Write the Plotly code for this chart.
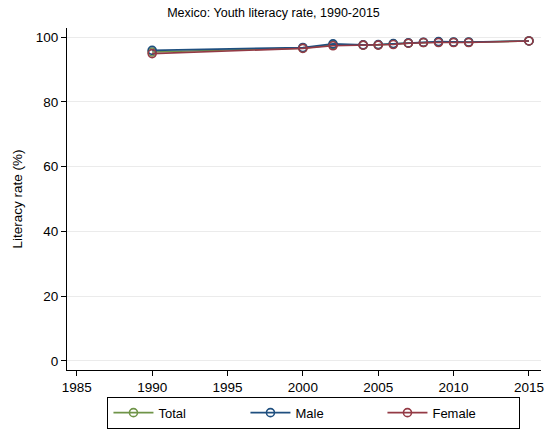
import plotly.graph_objects as go

years = [1990, 2000, 2002, 2004, 2005, 2006, 2007, 2008, 2009, 2010, 2011, 2015]
total = [95.4, 96.6, 97.6, 97.5, 97.6, 97.9, 98.1, 98.3, 98.5, 98.4, 98.4, 98.8]
male = [95.9, 96.8, 97.9, 97.6, 97.7, 98.0, 98.2, 98.4, 98.6, 98.5, 98.5, 98.8]
female = [94.9, 96.5, 97.3, 97.5, 97.5, 97.7, 98.1, 98.3, 98.3, 98.3, 98.3, 98.8]

series_names = ["Total", "Male", "Female"]
series_values = [total, male, female]
colors = ["#6f9448", "#1f4f7f", "#943a45"]

x_ticks = [1985, 1990, 1995, 2000, 2005, 2010, 2015]
y_ticks = [0, 20, 40, 60, 80, 100]

fig = go.Figure()
for name, vals, c in zip(series_names, series_values, colors):
    fig.add_trace(go.Scatter(
        x=years, y=vals, name=name, mode="lines+markers",
        line=dict(color=c, width=1.6),
        marker=dict(symbol="circle-open", size=8, color=c, line=dict(width=1.6, color=c)),
    ))

fig.update_layout(
    width=547, height=435,
    margin=dict(l=67, r=6, t=28, b=65),
    paper_bgcolor="white", plot_bgcolor="white",
    font=dict(family="Liberation Sans, Arial, sans-serif", size=13, color="black"),
    title=dict(text="Mexico: Youth literacy rate, 1990-2015", x=0.5, xanchor="center",
               y=0.972, yanchor="middle", font=dict(size=12.5, color="black")),
    showlegend=True,
    legend=dict(orientation="h", x=0.521, xanchor="center",
                yref="container", y=0.088, yanchor="top",
                bordercolor="black", borderwidth=1, bgcolor="white",
                font=dict(size=13), itemwidth=40, tracegroupgap=0, entrywidth=82),
)
fig.update_xaxes(range=[1984.35, 2015.8], tickvals=x_ticks, ticks="outside", ticklen=5,
                 tickcolor="black", showline=True, linecolor="black", linewidth=1,
                 showgrid=False, zeroline=False, tickfont=dict(size=13.5), automargin=False)
fig.update_yaxes(range=[-2.8, 102.8], tickvals=y_ticks, ticks="outside", ticklen=5,
                 tickcolor="black", showline=True, linecolor="black", linewidth=1,
                 showgrid=True, gridcolor="#ebebeb", gridwidth=1, zeroline=False,
                 title=dict(text="Literacy rate (%)", font=dict(size=13.5), standoff=10),
                 tickfont=dict(size=13.5), automargin=False)

fig.write_html("out.html", config={"displayModeBar": False},
               post_script="document.body.style.margin='0';")
